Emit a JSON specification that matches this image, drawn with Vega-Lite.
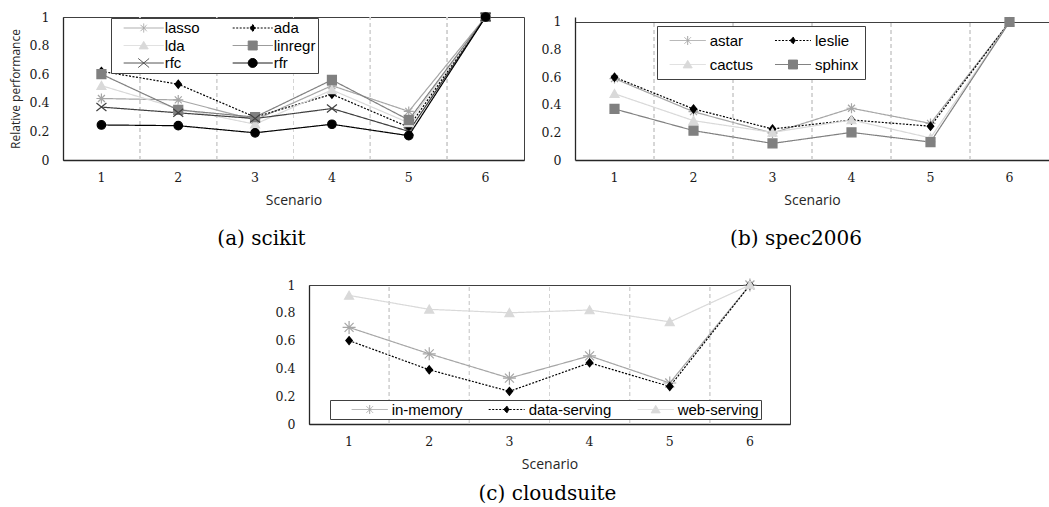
{
  "$schema": "https://vega.github.io/schema/vega-lite/v6.json",
  "padding": {"left": 8, "top": 9, "right": 0, "bottom": 0},
  "background": "white",
  "config": {
    "font": "Liberation Sans",
    "view": {"stroke": "#404040", "strokeWidth": 1},
    "axis": {
      "ticks": false,
      "grid": false,
      "domainColor": "#262626",
      "domainWidth": 1.3,
      "labelFont": "DejaVu Serif",
      "labelFontSize": 12.5,
      "labelColor": "#1a1a1a",
      "titleFont": "Open Sans",
      "titleFontSize": 14,
      "titleFontWeight": "normal",
      "titleColor": "#262626"
    },
    "axisX": {"labelAngle": 0, "labelPadding": 11, "titlePadding": 10},
    "axisY": {"labelPadding": 14, "titlePadding": 7},
    "legend": {
      "orient": "none",
      "direction": "horizontal",
      "titleOrient": "left",
      "titleFontSize": 1,
      "titleColor": "white",
      "symbolStrokeWidth": 1,
      "symbolFillColor": "transparent",
      "symbolSize": 225,
      "symbolOffset": 0,
      "labelFont": "Liberation Sans",
      "labelFontSize": 15,
      "labelColor": "black",
      "strokeColor": "#404040",
      "fillColor": "white"
    },
    "title": {"font": "DejaVu Serif", "fontSize": 20, "fontWeight": "normal", "color": "black"}
  },
  "datasets": {
    "scikit": [
      {"scenario": "1", "series": "lasso", "value": 0.43}, {"scenario": "2", "series": "lasso", "value": 0.42}, {"scenario": "3", "series": "lasso", "value": 0.28}, {"scenario": "4", "series": "lasso", "value": 0.52}, {"scenario": "5", "series": "lasso", "value": 0.34}, {"scenario": "6", "series": "lasso", "value": 1},
      {"scenario": "1", "series": "ada", "value": 0.62}, {"scenario": "2", "series": "ada", "value": 0.53}, {"scenario": "3", "series": "ada", "value": 0.3}, {"scenario": "4", "series": "ada", "value": 0.46}, {"scenario": "5", "series": "ada", "value": 0.23}, {"scenario": "6", "series": "ada", "value": 1},
      {"scenario": "1", "series": "lda", "value": 0.52}, {"scenario": "2", "series": "lda", "value": 0.36}, {"scenario": "3", "series": "lda", "value": 0.25}, {"scenario": "4", "series": "lda", "value": 0.49}, {"scenario": "5", "series": "lda", "value": 0.26}, {"scenario": "6", "series": "lda", "value": 1},
      {"scenario": "1", "series": "linregr", "value": 0.6}, {"scenario": "2", "series": "linregr", "value": 0.35}, {"scenario": "3", "series": "linregr", "value": 0.3}, {"scenario": "4", "series": "linregr", "value": 0.56}, {"scenario": "5", "series": "linregr", "value": 0.28}, {"scenario": "6", "series": "linregr", "value": 1},
      {"scenario": "1", "series": "rfc", "value": 0.37}, {"scenario": "2", "series": "rfc", "value": 0.33}, {"scenario": "3", "series": "rfc", "value": 0.29}, {"scenario": "4", "series": "rfc", "value": 0.36}, {"scenario": "5", "series": "rfc", "value": 0.2}, {"scenario": "6", "series": "rfc", "value": 1},
      {"scenario": "1", "series": "rfr", "value": 0.245}, {"scenario": "2", "series": "rfr", "value": 0.24}, {"scenario": "3", "series": "rfr", "value": 0.19}, {"scenario": "4", "series": "rfr", "value": 0.25}, {"scenario": "5", "series": "rfr", "value": 0.17}, {"scenario": "6", "series": "rfr", "value": 1}
    ],
    "spec": [
      {"scenario": "1", "series": "astar", "value": 0.59}, {"scenario": "2", "series": "astar", "value": 0.35}, {"scenario": "3", "series": "astar", "value": 0.195}, {"scenario": "4", "series": "astar", "value": 0.375}, {"scenario": "5", "series": "astar", "value": 0.265}, {"scenario": "6", "series": "astar", "value": 1},
      {"scenario": "1", "series": "leslie", "value": 0.6}, {"scenario": "2", "series": "leslie", "value": 0.37}, {"scenario": "3", "series": "leslie", "value": 0.225}, {"scenario": "4", "series": "leslie", "value": 0.29}, {"scenario": "5", "series": "leslie", "value": 0.245}, {"scenario": "6", "series": "leslie", "value": 1},
      {"scenario": "1", "series": "cactus", "value": 0.48}, {"scenario": "2", "series": "cactus", "value": 0.285}, {"scenario": "3", "series": "cactus", "value": 0.2}, {"scenario": "4", "series": "cactus", "value": 0.29}, {"scenario": "5", "series": "cactus", "value": 0.16}, {"scenario": "6", "series": "cactus", "value": 1},
      {"scenario": "1", "series": "sphinx", "value": 0.37}, {"scenario": "2", "series": "sphinx", "value": 0.213}, {"scenario": "3", "series": "sphinx", "value": 0.12}, {"scenario": "4", "series": "sphinx", "value": 0.2}, {"scenario": "5", "series": "sphinx", "value": 0.13}, {"scenario": "6", "series": "sphinx", "value": 1}
    ],
    "cloud": [
      {"scenario": "1", "series": "in-memory", "value": 0.695}, {"scenario": "2", "series": "in-memory", "value": 0.505}, {"scenario": "3", "series": "in-memory", "value": 0.33}, {"scenario": "4", "series": "in-memory", "value": 0.49}, {"scenario": "5", "series": "in-memory", "value": 0.295}, {"scenario": "6", "series": "in-memory", "value": 1},
      {"scenario": "1", "series": "data-serving", "value": 0.6}, {"scenario": "2", "series": "data-serving", "value": 0.39}, {"scenario": "3", "series": "data-serving", "value": 0.235}, {"scenario": "4", "series": "data-serving", "value": 0.44}, {"scenario": "5", "series": "data-serving", "value": 0.27}, {"scenario": "6", "series": "data-serving", "value": 1},
      {"scenario": "1", "series": "web-serving", "value": 0.925}, {"scenario": "2", "series": "web-serving", "value": 0.825}, {"scenario": "3", "series": "web-serving", "value": 0.8}, {"scenario": "4", "series": "web-serving", "value": 0.82}, {"scenario": "5", "series": "web-serving", "value": 0.735}, {"scenario": "6", "series": "web-serving", "value": 1}
    ]
  },
  "spacing": 26,
  "vconcat": [
    {
      "spacing": 16,
      "hconcat": [
        {
          "width": 461,
          "height": 143,
          "data": {"name": "scikit"},
          "title": {"text": "(a) scikit", "orient": "bottom", "anchor": "middle", "frame": "group", "dx": -32, "offset": 21},
          "encoding": {
            "x": {"field": "scenario", "type": "ordinal", "bandPosition": 0.5, "scale": {"type": "band", "paddingInner": 0, "paddingOuter": 0}, "axis": {"title": "Scenario"}},
            "y": {"field": "value", "type": "quantitative", "scale": {"domain": [0, 1], "nice": false}, "axis": {"title": "Relative performance", "titleFontSize": 12, "values": [0, 0.2, 0.4, 0.6, 0.8, 1], "format": "~g"}}
          },
          "layer": [
            {
              "transform": [{"filter": "datum.scenario != '1'"}],
              "mark": {"type": "rule", "color": "#d4d4d4", "strokeDash": [4, 3], "strokeWidth": 1},
              "encoding": {
                "x": {"field": "scenario", "type": "ordinal", "bandPosition": 0},
                "y": {"datum": 0},
                "y2": {"datum": 1}
              }
            },
            {
              "mark": {"type": "line", "strokeWidth": 1.2},
              "encoding": {
                "stroke": {"field": "series", "type": "nominal", "legend": null, "scale": {"domain": ["lasso", "ada", "lda", "linregr", "rfc", "rfr"], "range": ["#a6a6a6", "#000000", "#d9d9d9", "#808080", "#404040", "#000000"]}},
                "strokeDash": {"field": "series", "type": "nominal", "legend": null, "scale": {"domain": ["lasso", "ada", "lda", "linregr", "rfc", "rfr"], "range": [[1, 0], [2, 1.5], [1, 0], [1, 0], [1, 0], [1, 0]]}}
              }
            },
            {
              "mark": {"type": "point", "opacity": 1, "size": 100, "strokeWidth": 1.2},
              "encoding": {
                "shape": {"field": "series", "type": "nominal", "legend": null, "scale": {"domain": ["lasso", "ada", "lda", "linregr", "rfc", "rfr"], "range": ["M-1,0L1,0M0,-1L0,1M-0.7,-0.7L0.7,0.7M-0.7,0.7L0.7,-0.7", "M0,-0.8L0.65,0L0,0.8L-0.65,0Z", "M0,-0.85L0.9,0.75L-0.9,0.75Z", "M-0.9,-0.9L0.9,-0.9L0.9,0.9L-0.9,0.9Z", "M-1,-0.8L1,0.8M-1,0.8L1,-0.8", "M0.85,0A0.85,0.85 0 1,1 -0.85,0A0.85,0.85 0 1,1 0.85,0Z"]}},
                "fill": {"field": "series", "type": "nominal", "legend": null, "scale": {"domain": ["lasso", "ada", "lda", "linregr", "rfc", "rfr"], "range": ["transparent", "#000000", "#d9d9d9", "#808080", "transparent", "#000000"]}},
                "stroke": {"field": "series", "type": "nominal", "legend": null, "scale": {"domain": ["lasso", "ada", "lda", "linregr", "rfc", "rfr"], "range": ["#a6a6a6", "#000000", "#d9d9d9", "#808080", "#404040", "#000000"]}}
              }
            },
            {
              "transform": [{"filter": "false"}],
              "mark": {"type": "point", "opacity": 1},
              "encoding": {
                "shape": {"field": "series", "type": "nominal", "legend": {"title": "\u00a0", "titlePadding": 10.7, "legendX": 48, "legendY": 1, "columns": 2, "padding": 2, "labelOffset": 25, "columnPadding": 29, "rowPadding": 1.5}, "scale": {"domain": ["lasso", "ada", "lda", "linregr", "rfc", "rfr"], "range": ["M-1.067,0L4.267,0M1.6,-0.6L1.6,0.6M1.18,-0.42L2.02,0.42M1.18,0.42L2.02,-0.42", "M-1.067,0L4.267,0M1.6,-0.47L1.97,0L1.6,0.47L1.23,0Z", "M-1.067,0L4.267,0M1.6,-0.55L2.2,0.45L1,0.45Z", "M-1.067,0L4.267,0M1,-0.6L2.2,-0.6L2.2,0.6L1,0.6Z", "M-1.067,0L4.267,0M0.88,-0.6L2.32,0.6M0.88,0.6L2.32,-0.6", "M-1.067,0L4.267,0M2.2,0A0.6,0.6 0 1,1 1,0A0.6,0.6 0 1,1 2.2,0Z"]}},
                "fill": {"field": "series", "type": "nominal", "scale": {"domain": ["lasso", "ada", "lda", "linregr", "rfc", "rfr"], "range": ["transparent", "#000000", "#d9d9d9", "#808080", "transparent", "#000000"]}},
                "stroke": {"field": "series", "type": "nominal", "scale": {"domain": ["lasso", "ada", "lda", "linregr", "rfc", "rfr"], "range": ["#a6a6a6", "#000000", "#d9d9d9", "#808080", "#404040", "#000000"]}},
                "strokeDash": {"field": "series", "type": "nominal", "scale": {"domain": ["lasso", "ada", "lda", "linregr", "rfc", "rfr"], "range": [[1, 0], [2, 1.5], [1, 0], [1, 0], [1, 0], [1, 0]]}}
              }
            }
          ],
          "resolve": {"scale": {"shape": "independent", "fill": "independent", "stroke": "independent", "strokeDash": "independent"}}
        },
        {
          "width": 474,
          "height": 143,
          "data": {"name": "spec"},
          "view": {"stroke": null},
          "title": {"text": "(b) spec2006", "orient": "bottom", "anchor": "middle", "frame": "group", "dx": -16, "offset": 21},
          "encoding": {
            "x": {"field": "scenario", "type": "ordinal", "bandPosition": 0.5, "scale": {"type": "band", "paddingInner": 0, "paddingOuter": 0}, "axis": {"title": "Scenario"}},
            "y": {"field": "value", "type": "quantitative", "scale": {"domain": [0, 1.0362], "nice": false}, "axis": {"title": null, "values": [0, 0.2, 0.4, 0.6, 0.8, 1], "format": "~g", "grid": true, "gridWidth": 1, "gridColor": {"condition": {"test": "datum.value === 1", "value": "#404040"}, "value": "transparent"}}}
          },
          "layer": [
            {
              "transform": [{"filter": "datum.scenario != '1'"}],
              "mark": {"type": "rule", "color": "#d4d4d4", "strokeDash": [4, 3], "strokeWidth": 1},
              "encoding": {
                "x": {"field": "scenario", "type": "ordinal", "bandPosition": 0},
                "y": {"datum": 0},
                "y2": {"datum": 1}
              }
            },
            {
              "mark": {"type": "line", "strokeWidth": 1.2},
              "encoding": {
                "stroke": {"field": "series", "type": "nominal", "legend": null, "scale": {"domain": ["astar", "leslie", "cactus", "sphinx"], "range": ["#a6a6a6", "#000000", "#d9d9d9", "#808080"]}},
                "strokeDash": {"field": "series", "type": "nominal", "legend": null, "scale": {"domain": ["astar", "leslie", "cactus", "sphinx"], "range": [[1, 0], [2, 1.5], [1, 0], [1, 0]]}}
              }
            },
            {
              "mark": {"type": "point", "opacity": 1, "size": 100, "strokeWidth": 1.2},
              "encoding": {
                "shape": {"field": "series", "type": "nominal", "legend": null, "scale": {"domain": ["astar", "leslie", "cactus", "sphinx"], "range": ["M-1,0L1,0M0,-1L0,1M-0.7,-0.7L0.7,0.7M-0.7,0.7L0.7,-0.7", "M0,-0.8L0.65,0L0,0.8L-0.65,0Z", "M0,-0.85L0.9,0.75L-0.9,0.75Z", "M-0.9,-0.9L0.9,-0.9L0.9,0.9L-0.9,0.9Z"]}},
                "fill": {"field": "series", "type": "nominal", "legend": null, "scale": {"domain": ["astar", "leslie", "cactus", "sphinx"], "range": ["transparent", "#000000", "#d9d9d9", "#808080"]}},
                "stroke": {"field": "series", "type": "nominal", "legend": null, "scale": {"domain": ["astar", "leslie", "cactus", "sphinx"], "range": ["#a6a6a6", "#000000", "#d9d9d9", "#808080"]}}
              }
            },
            {
              "transform": [{"filter": "false"}],
              "mark": {"type": "point", "opacity": 1},
              "encoding": {
                "shape": {"field": "series", "type": "nominal", "legend": {"title": "\u00a0", "titlePadding": 6.2, "legendX": 82, "legendY": 9, "columns": 2, "padding": 6.5, "labelOffset": 24, "columnPadding": 18.3, "rowPadding": 8}, "scale": {"domain": ["astar", "leslie", "cactus", "sphinx"], "range": ["M-1.067,0L3.733,0M1.333,-0.6L1.333,0.6M0.913,-0.42L1.753,0.42M0.913,0.42L1.753,-0.42", "M-1.067,0L3.733,0M1.333,-0.47L1.703,0L1.333,0.47L0.963,0Z", "M-1.067,0L3.733,0M1.333,-0.55L1.933,0.45L0.733,0.45Z", "M-1.067,0L3.733,0M0.733,-0.6L1.933,-0.6L1.933,0.6L0.733,0.6Z"]}},
                "fill": {"field": "series", "type": "nominal", "scale": {"domain": ["astar", "leslie", "cactus", "sphinx"], "range": ["transparent", "#000000", "#d9d9d9", "#808080"]}},
                "stroke": {"field": "series", "type": "nominal", "scale": {"domain": ["astar", "leslie", "cactus", "sphinx"], "range": ["#a6a6a6", "#000000", "#d9d9d9", "#808080"]}},
                "strokeDash": {"field": "series", "type": "nominal", "scale": {"domain": ["astar", "leslie", "cactus", "sphinx"], "range": [[1, 0], [2, 1.5], [1, 0], [1, 0]]}}
              }
            }
          ],
          "resolve": {"scale": {"shape": "independent", "fill": "independent", "stroke": "independent", "strokeDash": "independent"}}
        }
      ]
    },
    {
      "spacing": 0,
      "hconcat": [
        {"width": 211, "height": 1, "view": {"stroke": null}, "data": {"values": [{}]}, "mark": {"type": "point", "opacity": 0}},
        {
          "width": 481,
          "height": 139,
          "data": {"name": "cloud"},
          "title": {"text": "(c) cloudsuite", "orient": "bottom", "anchor": "middle", "frame": "group", "dx": -2, "offset": 12},
          "encoding": {
            "x": {"field": "scenario", "type": "ordinal", "bandPosition": 0.5, "scale": {"type": "band", "paddingInner": 0, "paddingOuter": 0}, "axis": {"title": "Scenario"}},
            "y": {"field": "value", "type": "quantitative", "scale": {"domain": [0, 1], "nice": false}, "axis": {"title": null, "values": [0, 0.2, 0.4, 0.6, 0.8, 1], "format": "~g"}}
          },
          "layer": [
            {
              "transform": [{"filter": "datum.scenario != '1'"}],
              "mark": {"type": "rule", "color": "#d4d4d4", "strokeDash": [4, 3], "strokeWidth": 1},
              "encoding": {
                "x": {"field": "scenario", "type": "ordinal", "bandPosition": 0},
                "y": {"datum": 0},
                "y2": {"datum": 1}
              }
            },
            {
              "mark": {"type": "line", "strokeWidth": 1.2},
              "encoding": {
                "stroke": {"field": "series", "type": "nominal", "legend": null, "scale": {"domain": ["in-memory", "data-serving", "web-serving"], "range": ["#a6a6a6", "#000000", "#d9d9d9"]}},
                "strokeDash": {"field": "series", "type": "nominal", "legend": null, "scale": {"domain": ["in-memory", "data-serving", "web-serving"], "range": [[1, 0], [2, 1.5], [1, 0]]}}
              }
            },
            {
              "mark": {"type": "point", "opacity": 1, "size": 100, "strokeWidth": 1.2},
              "encoding": {
                "shape": {"field": "series", "type": "nominal", "legend": null, "scale": {"domain": ["in-memory", "data-serving", "web-serving"], "range": ["M-1.3,0L1.3,0M0,-1.3L0,1.3M-0.9,-0.9L0.9,0.9M-0.9,0.9L0.9,-0.9", "M0,-0.8L0.65,0L0,0.8L-0.65,0Z", "M0,-0.85L0.9,0.75L-0.9,0.75Z"]}},
                "fill": {"field": "series", "type": "nominal", "legend": null, "scale": {"domain": ["in-memory", "data-serving", "web-serving"], "range": ["transparent", "#000000", "#d9d9d9"]}},
                "stroke": {"field": "series", "type": "nominal", "legend": null, "scale": {"domain": ["in-memory", "data-serving", "web-serving"], "range": ["#a6a6a6", "#000000", "#d9d9d9"]}}
              }
            },
            {
              "transform": [{"filter": "false"}],
              "mark": {"type": "point", "opacity": 1},
              "encoding": {
                "shape": {"field": "series", "type": "nominal", "legend": {"title": "\u00a0", "titlePadding": 20.2, "legendX": 21, "legendY": 115, "columns": 3, "padding": 1.5, "labelOffset": 24, "columnPadding": 23, "labelExpr": "datum.label == 'web-serving' ? 'web-serving\u00a0\u00a0\u00a0\u00a0\u00a0\u00a0\u00a0' : datum.label"}, "scale": {"domain": ["in-memory", "data-serving", "web-serving"], "range": ["M-1.067,0L3.733,0M1.333,-0.6L1.333,0.6M0.913,-0.42L1.753,0.42M0.913,0.42L1.753,-0.42", "M-1.067,0L3.733,0M1.333,-0.47L1.703,0L1.333,0.47L0.963,0Z", "M-1.067,0L3.733,0M1.333,-0.55L1.933,0.45L0.733,0.45Z"]}},
                "fill": {"field": "series", "type": "nominal", "scale": {"domain": ["in-memory", "data-serving", "web-serving"], "range": ["transparent", "#000000", "#d9d9d9"]}},
                "stroke": {"field": "series", "type": "nominal", "scale": {"domain": ["in-memory", "data-serving", "web-serving"], "range": ["#a6a6a6", "#000000", "#d9d9d9"]}},
                "strokeDash": {"field": "series", "type": "nominal", "scale": {"domain": ["in-memory", "data-serving", "web-serving"], "range": [[1, 0], [2, 1.5], [1, 0]]}}
              }
            }
          ],
          "resolve": {"scale": {"shape": "independent", "fill": "independent", "stroke": "independent", "strokeDash": "independent"}}
        }
      ]
    }
  ]
}
